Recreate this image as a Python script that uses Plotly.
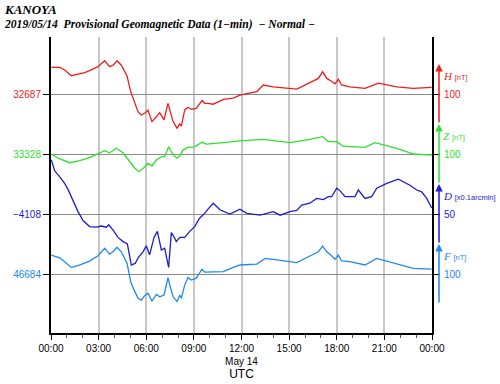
import pandas as pd
import plotly.graph_objects as go

# ---------------- data ----------------
DATE = "2019-05-14"

h_hours = [0.02, 0.55, 0.86, 1.28, 1.70, 2.12, 2.43, 2.96, 3.38, 3.69, 3.91, 4.16, 4.43, 4.79,
           5.02, 5.23, 5.48, 5.69, 5.90, 6.11, 6.36, 6.64, 6.85, 7.12, 7.37, 7.54, 7.69, 7.94,
           8.11, 8.21, 8.42, 8.63, 8.84, 9.15, 9.51, 9.68, 9.89, 10.22, 10.85, 11.48,
           11.90, 12.96, 13.37, 14.00, 14.63, 15.48, 16.31, 16.84, 17.11, 17.37, 17.62, 17.89,
           18.10, 18.30, 18.83, 19.78, 20.62, 21.78, 22.82, 23.98]
h_nt = [32731.5, 32731.5, 32727, 32717.5, 32720, 32722.5, 32726, 32732.5, 32742.5, 32732.5,
        32735, 32742.5, 32735, 32717, 32691, 32674, 32657.5, 32652, 32655, 32660, 32641, 32649,
        32656, 32644, 32671.5, 32655, 32641, 32630, 32637, 32633.5, 32660, 32665, 32661.5,
        32663, 32676, 32671.5, 32671.5, 32670, 32678, 32680,
        32685, 32691, 32702, 32699, 32697.5, 32695, 32706, 32713, 32724, 32713, 32709, 32704,
        32711.5, 32702, 32699, 32696.5, 32705, 32699, 32696.5, 32698]

z_hours = [0.02, 0.44, 1.18, 1.81, 2.43, 2.96, 3.38, 3.69, 4.11, 4.54, 4.96, 5.23, 5.52, 5.80,
           6.11, 6.36, 6.64, 6.95, 7.16, 7.41, 7.69, 7.94, 8.11, 8.31, 8.63, 9.05, 9.51, 9.78,
           10.85, 11.90, 13.37, 15.06, 16.31, 17.11, 17.46, 18.00, 18.40, 19.78, 20.41, 21.78,
           22.82, 23.98]
z_nt = [33328, 33321, 33313.5, 33317, 33322, 33328, 33333.5, 33330, 33337.5, 33330, 33315,
        33306, 33298.5, 33304, 33312.5, 33308, 33318, 33323.5, 33323.5, 33340, 33326.5, 33321,
        33324.5, 33334.5, 33339, 33340, 33347.5, 33344.5,
        33347, 33350, 33352.5, 33347, 33352.5, 33357, 33348.5, 33348.5, 33341, 33339, 33347,
        33337.5, 33328, 33326]

d_hours = [0.02, 0.23, 0.55, 0.86, 1.07, 1.39, 1.70, 2.02, 2.43, 2.86, 3.17, 3.49, 3.63, 3.91,
           4.22, 4.54, 4.81, 5.06, 5.31, 5.52, 5.80, 6.00, 6.21, 6.49, 6.70, 6.95, 7.16, 7.41,
           7.58, 7.75, 7.89, 8.11, 8.42, 8.74, 9.05, 9.36, 9.68, 9.85, 10.22, 10.64, 11.27,
           11.90, 12.33, 13.17, 14.00, 14.43, 15.06, 15.48, 15.79, 16.31, 16.73, 17.15, 17.47,
           17.68, 18.00, 18.20, 18.52, 19.15, 19.36, 19.78, 20.20, 20.52, 21.15, 21.88, 22.61,
           23.04, 23.35, 23.67, 23.98]
d_01arcmin = [-4063, -4072, -4077, -4082.5, -4087.5, -4096.5, -4106, -4113.5, -4118.5, -4119,
              -4118, -4119, -4117, -4121.5, -4127.5, -4131, -4133, -4150.5, -4149, -4144,
              -4139.5, -4134.5, -4142, -4127.5, -4122.5, -4138, -4136.5, -4152.5, -4123.5,
              -4127, -4131, -4127.5, -4127.5, -4122.5, -4118.5, -4111.5, -4107.5, -4104.5,
              -4099, -4104.5, -4108,
              -4104, -4107.5, -4109, -4106, -4109, -4106, -4105, -4100.5, -4099, -4095, -4096,
              -4093.5, -4093.5, -4086.5, -4088.5, -4093.5, -4093.5, -4088, -4095, -4093.5,
              -4086.5, -4082.5, -4079, -4084, -4088, -4089.5, -4095, -4103]

f_hours = [0.02, 0.55, 0.86, 1.28, 1.70, 2.12, 2.43, 2.96, 3.38, 3.69, 3.91, 4.16, 4.43, 4.79,
           5.02, 5.23, 5.48, 5.69, 5.90, 6.11, 6.36, 6.64, 6.85, 7.12, 7.37, 7.54, 7.69, 7.94,
           8.11, 8.21, 8.42, 8.63, 8.84, 9.15, 9.51, 9.68, 9.89, 10.85, 11.48, 11.90,
           12.96, 13.48, 14.00, 14.63, 15.48, 16.31, 16.84, 17.11, 17.37, 17.62, 17.89, 18.10,
           18.30, 18.83, 19.78, 20.52, 21.78, 22.82, 23.98]
f_nt = [46715.5, 46711, 46704.5, 46695, 46698, 46702, 46705.5, 46714.5, 46727, 46717, 46721,
        46728.5, 46721, 46702, 46671, 46657.5, 46643.5, 46640.5, 46648, 46652, 46639, 46650,
        46646, 46649, 46678, 46660, 46646, 46638, 46649, 46643.5, 46665.5, 46678, 46674,
        46677, 46692, 46687, 46687, 46688, 46695, 46699,
        46700.5, 46710, 46708.5, 46706, 46703, 46714, 46721, 46730.5, 46721, 46715.5, 46708.5,
        46715.5, 46706, 46704.5, 46699, 46710, 46700.5, 46693.5, 46692]

baselines = {"H": 32687, "Z": 33328, "D": -4108, "F": 46684}
scale_len = {"H": 100, "Z": 100, "D": 50, "F": 100}   # value shown by one scale arrow
scale_unit = {"H": "[nT]", "Z": "[nT]", "D": "[x0.1arcmin]", "F": "[nT]"}

x_tick_hours = [0, 3, 6, 9, 12, 15, 18, 21, 24]
x_tick_text = ["00:00", "03:00", "06:00", "09:00", "12:00<br>May 14", "15:00", "18:00",
               "21:00", "00:00"]

# ---------------- styling / layout ----------------
colors = {"H": "#f01c1c", "Z": "#2ee02e", "D": "#1c1cd0", "F": "#2088ee"}
W, H_ = 500, 384
L, R, T, B = 51, 432, 37, 333          # plot area in pixels
base_px = {"H": 94, "Z": 154, "D": 214, "F": 274}
arrow_px = 60                             # pixel length of one scale arrow

t0 = pd.Timestamp(DATE)


def to_time(hours):
    return [t0 + pd.Timedelta(hours=h) for h in hours]


series = [("H", h_hours, h_nt, "y"), ("Z", z_hours, z_nt, "y2"),
          ("D", d_hours, d_01arcmin, "y3"), ("F", f_hours, f_nt, "y4")]

fig = go.Figure()
for name, hrs, vals, ax in series:
    fig.add_trace(go.Scatter(x=to_time(hrs), y=vals, mode="lines", yaxis=ax,
                             line=dict(color=colors[name], width=1.3),
                             showlegend=False, hoverinfo="skip"))

layout = dict(
    width=W, height=H_,
    margin=dict(l=L, r=W - R, t=T, b=H_ - B, autoexpand=False),
    plot_bgcolor="white", paper_bgcolor="white",
    font=dict(family="Liberation Sans, Arial, sans-serif", size=10, color="black"),
    xaxis=dict(
        type="date", automargin=False,
        range=[t0, t0 + pd.Timedelta(hours=24)],
        tickvals=to_time(x_tick_hours), ticktext=x_tick_text,
        showgrid=True, gridcolor="#c8c8c8", gridwidth=1.5,
        showline=True, linecolor="black", linewidth=1.5,
        ticks="outside", ticklen=5, tickcolor="black", tickwidth=1,
        minor=dict(dtick=3600000, ticks="outside", ticklen=3, tickcolor="#555", showgrid=False),
        tickfont=dict(size=10),
        title=dict(text="UTC", font=dict(size=12), standoff=2),
        zeroline=False,
    ),
)

axis_names = {"H": "yaxis", "Z": "yaxis2", "D": "yaxis3", "F": "yaxis4"}
for name, hrs, vals, ax in series:
    p = arrow_px / scale_len[name]       # pixels per unit
    b = baselines[name]
    bp = base_px[name]
    rng = [b - (B - bp) / p, b + (bp - T) / p]
    d = dict(
        range=rng, tickvals=[b], ticktext=[f"{b}".replace("-", "\u2212")],
        automargin=False,
        showgrid=True, gridcolor="#8a8a8a", gridwidth=1,
        zeroline=False, showline=True, linecolor="black", linewidth=2,
        mirror="ticks", ticks="outside", ticklen=6, tickcolor="black",
        tickfont=dict(color=colors[name], size=10),
    )
    if ax != "y":
        d.update(overlaying="y", anchor="x")
    layout[axis_names[name]] = d

fig.update_layout(**layout)

# right-hand scale arrows and labels
bar_x = (439 - L) / (R - L)
for name, hrs, vals, ax in series:
    b = baselines[name]
    half = scale_len[name] / 2
    col = colors[name]
    fig.add_annotation(x=bar_x, xref="paper", y=b + half, yref=ax,
                       ax=0, axref="pixel", ay=b - half, ayref=ax,
                       text="", showarrow=True, arrowhead=2, arrowsize=1,
                       arrowwidth=1.5, arrowcolor=col, standoff=0, startstandoff=0)
    fig.add_annotation(x=bar_x, xref="paper", y=b, yref=ax, xshift=3,
                       text=str(scale_len[name]), showarrow=False,
                       xanchor="left", yanchor="middle",
                       font=dict(color=col, size=10))
    fig.add_annotation(x=bar_x, xref="paper", y=b, yref=ax, xshift=2, yshift=18,
                       text=f"<i>{name}</i> <span style='font-family:Liberation Sans;font-size:7.5px'>{scale_unit[name]}</span>",
                       showarrow=False, xanchor="left", yanchor="middle",
                       font=dict(color=col, size=11, family="Liberation Serif"))

# titles
ttl = dict(xref="paper", yref="paper", showarrow=False, xanchor="left", yanchor="top")
fig.add_annotation(x=(2 - L) / (R - L), y=(B - 0) / (B - T),
                   text="<b><i>KANOYA</i></b>",
                   font=dict(family="Liberation Serif", size=13, color="black"), **ttl)
fig.add_annotation(x=(2 - L) / (R - L), y=(B - 16) / (B - T),
                   text="<b><i>2019/05/14  Provisional Geomagnetic Data (1\u2212min)  \u2212 Normal \u2212</i></b>",
                   font=dict(family="Liberation Serif", size=11.6, color="black"), **ttl)

fig.write_html("out.html", config={"displayModeBar": False},
               post_script="document.body.style.margin='0';document.body.style.overflow='hidden';")
